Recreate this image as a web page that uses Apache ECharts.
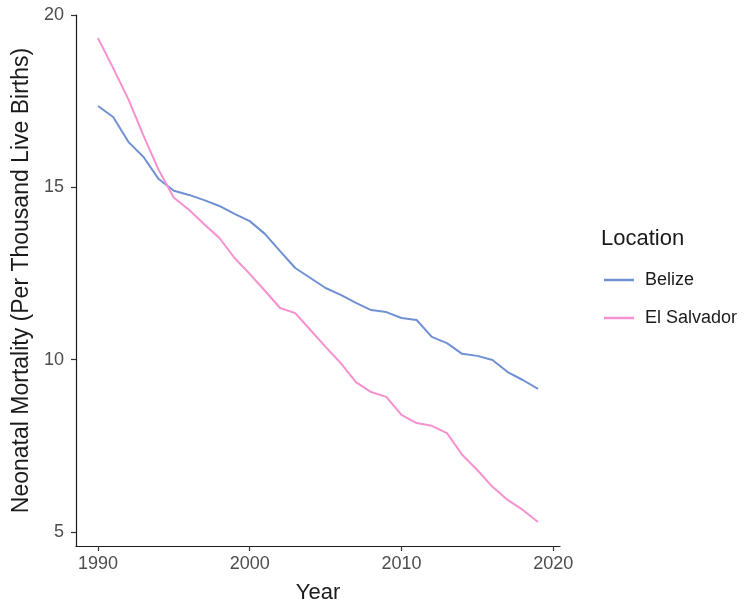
<!DOCTYPE html>
<html>
<head>
<meta charset="utf-8">
<script src="https://cdn.jsdelivr.net/npm/echarts@6/dist/echarts.min.js"></script>
<style>html,body{margin:0;padding:0;background:#fff}#c{width:746px;height:605px}</style>
</head>
<body>
<div id="c"></div>
<script>
const years = [1990,1991,1992,1993,1994,1995,1996,1997,1998,1999,2000,2001,2002,2003,2004,2005,2006,2007,2008,2009,2010,2011,2012,2013,2014,2015,2016,2017,2018,2019];
const belize = [17.36,17.04,16.32,15.88,15.24,14.9,14.78,14.63,14.46,14.23,14.02,13.65,13.15,12.66,12.37,12.08,11.88,11.65,11.44,11.38,11.21,11.15,10.66,10.48,10.17,10.11,9.99,9.64,9.41,9.15];
const elSalvador = [19.33,18.46,17.56,16.5,15.5,14.7,14.35,13.93,13.53,12.95,12.49,12.0,11.5,11.35,10.86,10.37,9.9,9.35,9.06,8.92,8.4,8.16,8.08,7.87,7.24,6.8,6.31,5.93,5.64,5.29];
const xTicks = [1990,2000,2010,2020];
const yTicks = [5,10,15,20];
const seriesNames = ['Belize','El Salvador'];
const colors = ['#7090d4','#f591cf'];

const font = 'Liberation Sans, Arial, sans-serif';
const chart = echarts.init(document.getElementById('c'), null, {renderer:'canvas'});
const pair = (xs, ys) => xs.map((x,i)=>[x, ys[i]]);
chart.setOption({
  animation:false,
  backgroundColor:'#fff',
  title:{text:'Location', left:596, top:223, textStyle:{fontFamily:font,fontSize:22,fontWeight:'normal',color:'#1a1a1a'}},
  legend:{
    data:seriesNames, orient:'vertical', left:599, top:266, icon:'rect', itemWidth:30, itemHeight:2.5,
    itemGap:20, textStyle:{fontFamily:font,fontSize:18,color:'#1a1a1a',padding:[0,0,0,6]}
  },
  grid:{left:76,right:186,top:15,bottom:59,outerBoundsMode:'none',containLabel:false},
  xAxis:{
    type:'value', min:1988.55, max:2020.45,
    name:'Year', nameLocation:'middle', nameGap:36,
    nameTextStyle:{fontFamily:font,fontSize:22,color:'#1a1a1a'},
    axisLine:{lineStyle:{color:'#1a1a1a',width:1.2}},
    axisTick:{customValues:xTicks,length:5,lineStyle:{color:'#333',width:1.2}},
    axisLabel:{customValues:xTicks,formatter:v=>String(v),fontFamily:font,fontSize:18,color:'#4d4d4d',margin:9},
    splitLine:{show:false}
  },
  yAxis:{
    type:'value', min:4.594, max:20,
    name:'Neonatal Mortality (Per Thousand Live Births)', nameLocation:'middle', nameGap:43,
    nameTextStyle:{fontFamily:font,fontSize:23,color:'#1a1a1a'},
    axisLine:{show:true,lineStyle:{color:'#1a1a1a',width:1.2}},
    axisTick:{show:true,customValues:yTicks,length:5,lineStyle:{color:'#333',width:1.2}},
    axisLabel:{customValues:yTicks,formatter:v=>String(v),fontFamily:font,fontSize:18,color:'#4d4d4d',margin:12},
    splitLine:{show:false}
  },
  series:[
    {name:seriesNames[0],type:'line',data:pair(years,belize),showSymbol:false,symbol:'none',lineStyle:{color:colors[0],width:2},itemStyle:{color:colors[0]}},
    {name:seriesNames[1],type:'line',data:pair(years,elSalvador),showSymbol:false,symbol:'none',lineStyle:{color:colors[1],width:2},itemStyle:{color:colors[1]}}
  ]
});
</script>
</body>
</html>
